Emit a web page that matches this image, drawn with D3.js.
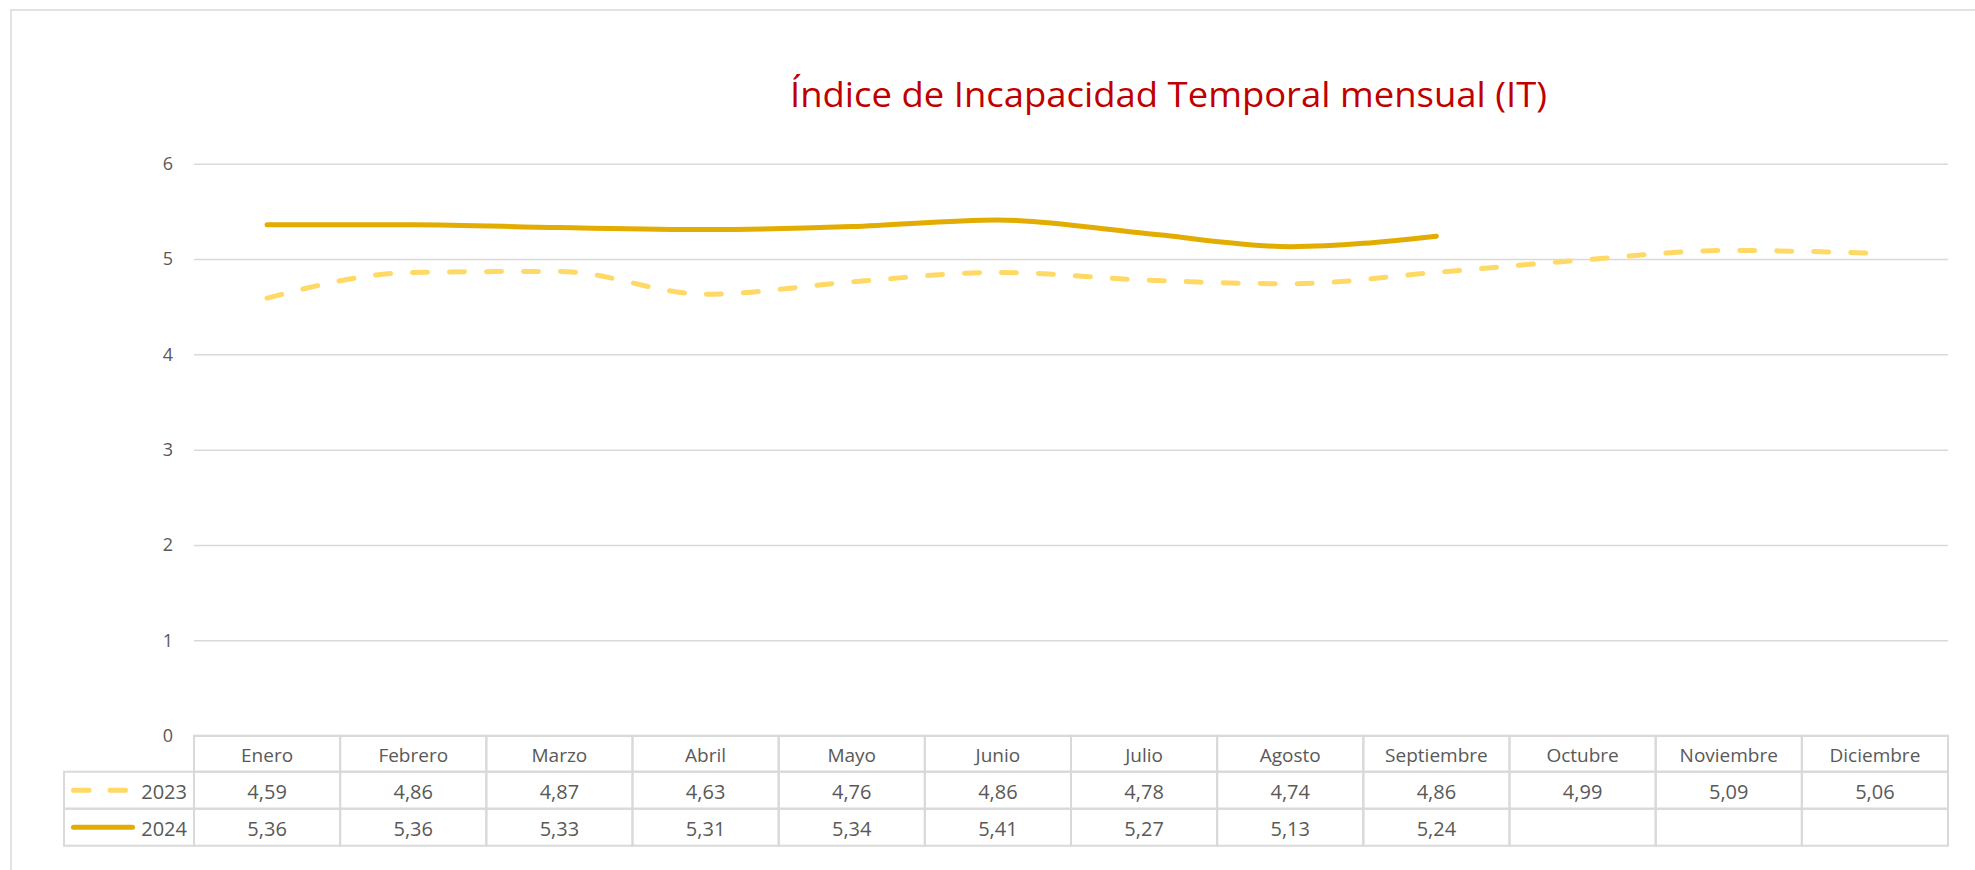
<!DOCTYPE html>
<html>
<head>
<meta charset="utf-8">
<script src="https://cdn.jsdelivr.net/npm/d3@7"></script>
<style>
  html, body { margin: 0; padding: 0; background: #fff; }
  svg { display: block; }
</style>
</head>
<body>
<svg id="chart" width="1975" height="870"></svg>
<script>
const months = ["Enero","Febrero","Marzo","Abril","Mayo","Junio","Julio","Agosto","Septiembre","Octubre","Noviembre","Diciembre"];
const values2023 = [4.59,4.86,4.87,4.63,4.76,4.86,4.78,4.74,4.86,4.99,5.09,5.06];
const values2024 = [5.36,5.36,5.33,5.31,5.34,5.41,5.27,5.13,5.24,null,null,null];
const seriesNames = ["2023","2024"];
const yTicks = [0,1,2,3,4,5,6];
const titleText = "Índice de Incapacidad Temporal mensual (IT)";

const svg = d3.select("#chart");
const gridColor = "#D9D9D9";
const textColor = "#595959";
const color2023 = "#FFD966";
const color2024 = "#E2AC00";
const font = "'Open Sans', sans-serif";

const plotLeft = 194, plotRight = 1948, plotTop = 163.7, plotBottom = 735.7;
const legendLeft = 64;
const headerH = 36, rowH = 37;

// outer border
svg.append("rect").attr("x", 11).attr("y", 10).attr("width", 2000).attr("height", 1000)
  .attr("fill", "none").attr("stroke", gridColor).attr("stroke-width", 1.5);

const x = d3.scaleBand().domain(months).range([plotLeft, plotRight]);
const y = d3.scaleLinear().domain([0, 6]).range([plotBottom, plotTop]);

// title
svg.append("text").attr("x", (790 + 1547) / 2).attr("y", 107)
  .attr("text-anchor", "middle").attr("fill", "#C00000")
  .attr("font-family", font).attr("font-size", 34)
  .attr("textLength", 757).attr("lengthAdjust", "spacingAndGlyphs")
  .text(titleText);

// gridlines
const yAxis = d3.axisLeft(y).tickValues(yTicks).tickSize(-(plotRight - plotLeft)).tickPadding(21).tickFormat(d3.format("d"));
const gy = svg.append("g").attr("transform", `translate(${plotLeft},0)`).call(yAxis);
gy.select(".domain").remove();
gy.selectAll(".tick line").attr("stroke", gridColor).attr("stroke-width", 1.5);
gy.selectAll(".tick text").attr("fill", textColor).attr("font-family", font).attr("font-size", 18);

// lines
const fmt = d3.formatLocale({decimal: ",", thousands: ".", grouping: [3], currency: ["", "€"]}).format(".2f");
const line = d3.line()
  .defined(d => d != null)
  .x((d, i) => x(months[i]) + x.bandwidth() / 2)
  .y(d => y(d))
  .curve(d3.curveMonotoneX);

svg.append("path").datum(values2023).attr("d", line)
  .attr("fill", "none").attr("stroke", color2023).attr("stroke-width", 5)
  .attr("stroke-dasharray", "15 22").attr("stroke-linecap", "round").attr("stroke-linejoin", "round");
svg.append("path").datum(values2024).attr("d", line)
  .attr("fill", "none").attr("stroke", color2024).attr("stroke-width", 5)
  .attr("stroke-linecap", "round").attr("stroke-linejoin", "round");

// data table
const tbl = svg.append("g");
const headerTop = plotBottom;
const row1Top = headerTop + headerH;
const row2Top = row1Top + rowH;

tbl.selectAll("rect.h").data(months).join("rect").attr("class", "h")
  .attr("x", d => x(d)).attr("y", headerTop).attr("width", x.bandwidth()).attr("height", headerH)
  .attr("fill", "none").attr("stroke", gridColor).attr("stroke-width", 2);
tbl.selectAll("text.h").data(months).join("text").attr("class", "h")
  .attr("x", d => x(d) + x.bandwidth() / 2).attr("y", headerTop + headerH / 2 + 1)
  .attr("text-anchor", "middle").attr("dominant-baseline", "central")
  .attr("fill", textColor).attr("font-family", font).attr("font-size", 19)
  .text(d => d);

const rows = [
  {name: seriesNames[0], values: values2023, color: color2023, dash: "15.5 21", top: row1Top},
  {name: seriesNames[1], values: values2024, color: color2024, dash: null, top: row2Top}
];

rows.forEach(r => {
  const g = tbl.append("g");
  g.append("rect").attr("x", legendLeft).attr("y", r.top).attr("width", plotLeft - legendLeft).attr("height", rowH)
    .attr("fill", "none").attr("stroke", gridColor).attr("stroke-width", 2);
  g.selectAll("rect.c").data(months).join("rect").attr("class", "c")
    .attr("x", d => x(d)).attr("y", r.top).attr("width", x.bandwidth()).attr("height", rowH)
    .attr("fill", "none").attr("stroke", gridColor).attr("stroke-width", 2);
  const cy = r.top + rowH / 2;
  const ll = g.append("line").attr("x1", 73.5).attr("x2", 132.5).attr("y1", cy).attr("y2", cy)
    .attr("stroke", r.color).attr("stroke-width", 5).attr("stroke-linecap", "round");
  if (r.dash) ll.attr("stroke-dasharray", r.dash);
  g.append("text").attr("x", 187).attr("y", cy + 1)
    .attr("text-anchor", "end").attr("dominant-baseline", "central")
    .attr("fill", textColor).attr("font-family", font).attr("font-size", 20)
    .text(r.name);
  g.selectAll("text.v").data(r.values).join("text").attr("class", "v")
    .attr("x", (d, i) => x(months[i]) + x.bandwidth() / 2).attr("y", cy + 1)
    .attr("text-anchor", "middle").attr("dominant-baseline", "central")
    .attr("fill", textColor).attr("font-family", font).attr("font-size", 20)
    .text(d => d == null ? "" : fmt(d));
});
</script>
</body>
</html>
